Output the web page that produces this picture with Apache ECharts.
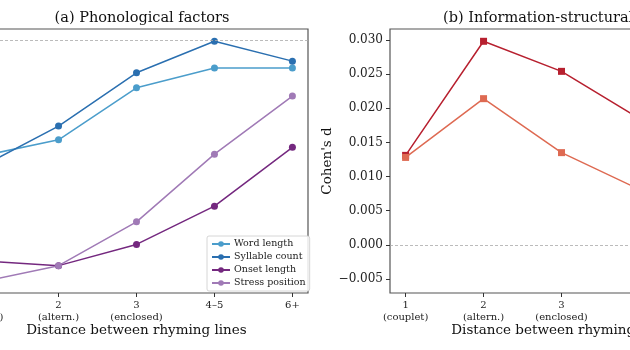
<!DOCTYPE html>
<html>
<head>
<meta charset="utf-8">
<script src="https://cdn.jsdelivr.net/npm/echarts@6/dist/echarts.min.js"></script>
<style>
  html, body { margin: 0; padding: 0; background: #fff; }
  #main { width: 630px; height: 350px; }
</style>
</head>
<body>
<div id="main"></div>
<script>
// x categories (distance between rhyming lines)
const categories = ['1\n(couplet)', '2\n(altern.)', '3\n(enclosed)', '4–5', '6+'];

// (a) phonological factors, Cohen's d
const wordLength     = [-0.0170, -0.0146, -0.0070, -0.0041, -0.0041];
const syllableCount  = [-0.0186, -0.0126, -0.0048, -0.0002, -0.0031];
const onsetLength    = [-0.0323, -0.0330, -0.0299, -0.0243, -0.0157];
const stressPosition = [-0.0354, -0.0330, -0.0266, -0.0167, -0.0082];

// (b) information-structural factors, Cohen's d
const infoDark  = [0.0131, 0.0298, 0.0254, 0.0185, 0.0170];
const infoLight = [0.0128, 0.0214, 0.0135, 0.0081, 0.0060];

const yTicksB = [-0.005, 0, 0.005, 0.010, 0.015, 0.020, 0.025, 0.030];

const FONT = 'DejaVu Serif';
const idx = categories.map((c, i) => i);
const pts = arr => arr.map((v, i) => [i, v]);
const fmt = v => (v < 0 ? '\u2212' : '') + Math.abs(v).toFixed(3);

const zeroLine = {
  silent: true,
  symbol: 'none',
  label: { show: false },
  lineStyle: { color: '#aaa', type: [3, 2], width: 0.8 },
  data: [{ yAxis: 0 }]
};

function xAxisFor(gi) {
  return {
    type: 'value', gridIndex: gi, min: -0.2, max: 4.2,
    axisLine: { show: false, onZero: false },
    splitLine: { show: false },
    axisTick: { show: true, customValues: idx, length: 4, lineStyle: { color: '#333' } },
    axisLabel: {
      customValues: idx, margin: 7, fontFamily: FONT, fontSize: 10, color: '#222',
      lineHeight: 11.5, formatter: v => categories[Math.round(v)]
    },
    name: 'Distance between rhyming lines', nameLocation: 'middle', nameGap: 30,
    nameMoveOverlap: false,
    nameTextStyle: { fontFamily: FONT, fontSize: 13.5, color: '#111' }
  };
}

function lineSeries(name, data, color, gi, symbol, markLine) {
  const s = {
    name, type: 'line', data: pts(data), xAxisIndex: gi, yAxisIndex: gi,
    symbol, symbolSize: 7, showSymbol: true,
    lineStyle: { color, width: 1.5 },
    itemStyle: { color },
    emphasis: { disabled: true },
    animation: false, z: 3
  };
  if (markLine) s.markLine = zeroLine;
  return s;
}

const option = {
  animation: false,
  title: [
    { text: '(a) Phonological factors', left: 137, top: 6, textAlign: 'center',
      textStyle: { fontFamily: FONT, fontSize: 14.5, fontWeight: 'normal', color: '#111' } },
    { text: '(b) Information-structural factors', left: 561, top: 6, textAlign: 'center',
      textStyle: { fontFamily: FONT, fontSize: 14.5, fontWeight: 'normal', color: '#111' } }
  ],
  legend: {
    data: ['Word length', 'Syllable count', 'Onset length', 'Stress position'],
    orient: 'vertical', left: 207, top: 236,
    itemWidth: 18, itemHeight: 7, itemGap: 3,
    padding: [3, 4, 3, 4],
    backgroundColor: 'rgba(255,255,255,0.85)',
    borderColor: '#ccc', borderWidth: 0.8, borderRadius: 2,
    textStyle: { fontFamily: FONT, fontSize: 9.5, color: '#222', padding: [0, 0, 0, -1] }
  },
  grid: [
    { left: -35, width: 343, top: 29, height: 264, show: true, outerBoundsMode: 'none',
      containLabel: false, borderColor: '#555', borderWidth: 1.2, backgroundColor: 'transparent' },
    { left: 390, width: 343, top: 29, height: 264, show: true, outerBoundsMode: 'none',
      containLabel: false, borderColor: '#555', borderWidth: 1.2, backgroundColor: 'transparent' }
  ],
  xAxis: [xAxisFor(0), xAxisFor(1)],
  yAxis: [
    { type: 'value', gridIndex: 0, min: -0.037, max: 0.0016,
      axisLine: { show: false }, splitLine: { show: false },
      axisTick: { show: false }, axisLabel: { show: false } },
    { type: 'value', gridIndex: 1, min: -0.00705, max: 0.0316,
      axisLine: { show: false, onZero: false }, splitLine: { show: false },
      axisTick: { show: true, customValues: yTicksB, length: 4, lineStyle: { color: '#333' } },
      axisLabel: { customValues: yTicksB, margin: 7, fontFamily: FONT, fontSize: 12,
        color: '#222', formatter: fmt },
      name: "Cohen's d", nameLocation: 'middle', nameGap: 56, nameMoveOverlap: false,
      nameTextStyle: { fontFamily: FONT, fontSize: 13.5, color: '#111' } }
  ],
  series: [
    lineSeries('Word length', wordLength, '#4b9dcb', 0, 'circle', true),
    lineSeries('Syllable count', syllableCount, '#2a6fb0', 0, 'circle', false),
    lineSeries('Onset length', onsetLength, '#74287f', 0, 'circle', false),
    lineSeries('Stress position', stressPosition, '#a07ab6', 0, 'circle', false),
    lineSeries('Info dark', infoDark, '#b7202f', 1, 'rect', true),
    lineSeries('Info light', infoLight, '#de6a52', 1, 'rect', false)
  ]
};

const chart = echarts.init(document.getElementById('main'));
chart.setOption(option);
</script>
</body>
</html>
